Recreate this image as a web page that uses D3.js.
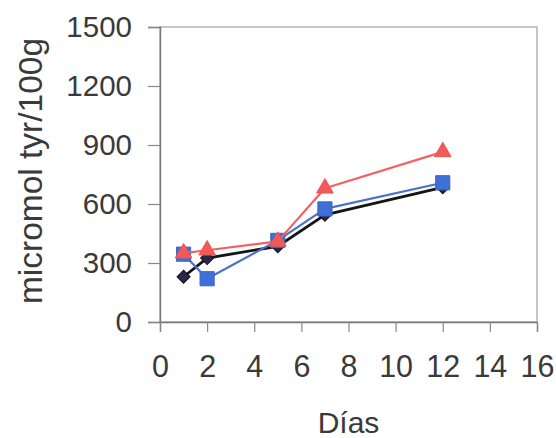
<!DOCTYPE html>
<html>
<head>
<meta charset="utf-8">
<script src="https://cdn.jsdelivr.net/npm/d3@7"></script>
<style>
  html, body { margin: 0; padding: 0; background: #fff; }
  svg { display: block; font-family: "Liberation Sans", Arial, sans-serif; }
</style>
</head>
<body>
<svg id="chart" width="556" height="438"></svg>
<script>
// Days of sampling
const dias = [1, 2, 5, 7, 12];
// Tyrosine content (micromol tyr/100g) for each series
const serieNegra = [230, 325, 385, 545, 685];
const serieAzul  = [345, 220, 415, 575, 708];
const serieRoja  = [350, 365, 410, 680, 865];
// Axis ticks
const xTicks = [0, 2, 4, 6, 8, 10, 12, 14, 16];
const yTicks = [0, 300, 600, 900, 1200, 1500];

const svg = d3.select("#chart");
const m = { left: 160, right: 537, top: 27, bottom: 322 };

const x = d3.scaleLinear().domain([0, 16]).range([m.left, m.right]);
const y = d3.scaleLinear().domain([0, 1500]).range([m.bottom, m.top]);

// Plot frame
svg.append("rect")
  .attr("x", m.left).attr("y", m.top)
  .attr("width", m.right - m.left).attr("height", m.bottom - m.top)
  .attr("fill", "#fff").attr("stroke", "#a0a0a0").attr("stroke-width", 1.2);

// Y axis
const yAxis = svg.append("g")
  .attr("transform", `translate(${m.left},0)`)
  .call(d3.axisLeft(y).tickValues(yTicks).tickSize(12).tickPadding(16).tickFormat(d3.format("d")));
yAxis.select(".domain").attr("stroke", "#777").attr("stroke-width", 1.4);
yAxis.selectAll(".tick line").attr("stroke", "#888").attr("stroke-width", 1.2);
yAxis.selectAll(".tick text")
  .attr("font-size", 29.5).attr("fill", "#3a3a3a")
  .attr("font-family", "Liberation Sans, Arial, sans-serif");

// X axis
const xAxis = svg.append("g")
  .attr("transform", `translate(0,${m.bottom})`)
  .call(d3.axisBottom(x).tickValues(xTicks).tickSize(10).tickPadding(23).tickFormat(d3.format("d")));
xAxis.select(".domain").attr("stroke", "#777").attr("stroke-width", 1.4);
xAxis.selectAll(".tick line").attr("stroke", "#888").attr("stroke-width", 1.2);
xAxis.selectAll(".tick text")
  .attr("font-size", 30.5).attr("fill", "#3a3a3a")
  .attr("font-family", "Liberation Sans, Arial, sans-serif");

// Axis titles
svg.append("text")
  .attr("x", (m.left + m.right) / 2).attr("y", 433)
  .attr("text-anchor", "middle").attr("font-size", 30).attr("fill", "#3a3a3a")
  .text("Días");

svg.append("text")
  .attr("transform", "translate(42,171) rotate(-90)")
  .attr("text-anchor", "middle").attr("font-size", 33.5).attr("fill", "#3a3a3a")
  .text("micromol tyr/100g");

const line = d3.line().x(d => x(d[0])).y(d => y(d[1]));

function drawSeries(values, lineColor, lineWidth, symbolType, size, rotate, fill, stroke) {
  const pts = dias.map((d, i) => [d, values[i]]);
  svg.append("path").datum(pts)
    .attr("d", line).attr("fill", "none")
    .attr("stroke", lineColor).attr("stroke-width", lineWidth)
    .attr("stroke-linejoin", "round");
  svg.append("g").selectAll("path").data(pts).join("path")
    .attr("transform", d => `translate(${x(d[0])},${y(d[1])}) rotate(${rotate})`)
    .attr("d", d3.symbol().type(symbolType).size(size)())
    .attr("fill", fill).attr("stroke", stroke).attr("stroke-width", 1);
}

// Diamonds are squares turned 45 degrees
drawSeries(serieNegra, "#151515", 2.8, d3.symbolSquare, 85, 45, "#2d2448", "#111");
drawSeries(serieAzul, "#4a72cc", 2.2, d3.symbolSquare, 200, 0, "#3f6fd8", "#3a64c4");
drawSeries(serieRoja, "#f06262", 2.2, d3.symbolTriangle, 120, 0, "#f25a5a", "#e85555");
</script>
</body>
</html>
